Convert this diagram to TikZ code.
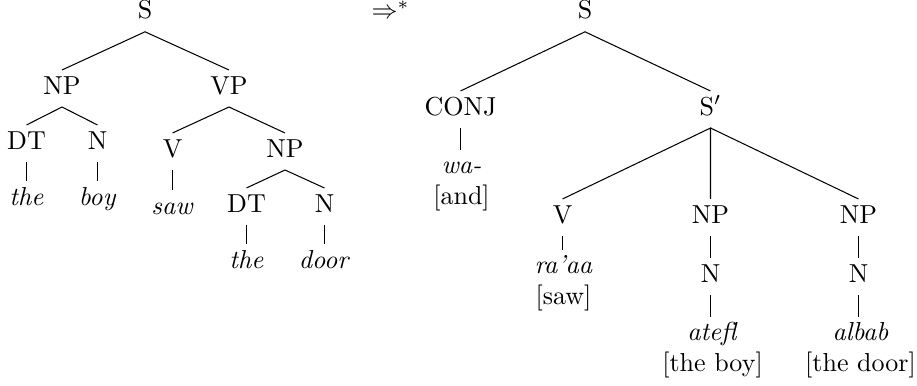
\documentclass[tikz,border=0pt]{standalone}
\begin{document}
\begin{tikzpicture}[x=0.3846pt,y=-0.3846pt,
  cat/.style={inner sep=0pt,text height=9.04pt,text depth=4.8pt,anchor=base},
  lex/.style={inner sep=0pt,align=center,anchor=north},
  br/.style={line width=0.4pt}]
\useasboundingbox (0,0) rectangle (917,385);
% left tree
\node[cat] (S1) at (145,18.8) {S};
\node[cat] (NP1) at (62,94) {NP};
\node[cat] (VP) at (229,94) {VP};
\node[cat] (DT1) at (26.5,149) {DT};
\node[cat] (N1) at (97.5,149) {N};
\node[cat] (V1) at (172.5,157) {V};
\node[cat] (NP2) at (285,157) {NP};
\node[cat] (the1) at (26.5,205.5) {\textit{the}};
\node[cat] (boy) at (97.5,205.5) {\textit{boy}};
\node[cat] (saw) at (172.5,214.5) {\textit{saw}};
\node[cat] (DT2) at (246.5,212) {DT};
\node[cat] (N2) at (324.5,212) {N};
\node[cat] (the2) at (246.5,268.3) {\textit{the}};
\node[cat] (door) at (324.5,268.3) {\textit{door}};
\draw[br] (NP1.north) -- (S1.south) -- (VP.north);
\draw[br] (DT1.north) -- (NP1.south) -- (N1.north);
\draw[br] (V1.north) -- (VP.south) -- (NP2.north);
\draw[br] (DT2.north) -- (NP2.south) -- (N2.north);
\draw[br] (DT1.south) -- (the1.north);
\draw[br] (N1.south) -- (boy.north);
\draw[br] (V1.south) -- (saw.north);
\draw[br] (DT2.south) -- (the2.north);
\draw[br] (N2.south) -- (door.north);
% arrow
\node[inner sep=0pt,anchor=base west] (arr) at (371,18.5) {$\Rightarrow^*$};
% right tree
\node[cat] (S2) at (585,18.8) {S};
\node[cat] (CONJ) at (460.5,115) {CONJ};
\node[cat] (S3) at (710.5,115) {S$'$};
\node[lex] (wa) at (461.5,149.5) {\rule{0pt}{9.04pt}\textit{wa-}\\{}[and]};
\node[cat] (V2) at (562.5,223) {V};
\node[cat] (NP3) at (710.5,223) {NP};
\node[cat] (NP4) at (858.5,223) {NP};
\node[lex] (raaa) at (563.5,249.5) {\rule{0pt}{9.04pt}\textit{ra'aa}\\{}[saw]};
\node[cat] (N3) at (710.5,282) {N};
\node[cat] (N4) at (858.5,282) {N};
\node[lex] (atefl) at (712.5,316.5) {\rule{0pt}{9.04pt}\textit{atefl}\\{}[the boy]};
\node[lex] (albab) at (860.5,316.5) {\rule{0pt}{9.04pt}\textit{albab}\\{}[the door]};
\draw[br] (CONJ.north) -- (S2.south) -- (S3.north);
\draw[br] (V2.north) -- (S3.south) -- (NP3.north);
\draw[br] (S3.south) -- (NP4.north);
\draw[br] (CONJ.south) -- (CONJ.south |- wa.north);
\draw[br] (V2.south) -- (V2.south |- raaa.north);
\draw[br] (NP3.south) -- (N3.north);
\draw[br] (NP4.south) -- (N4.north);
\draw[br] (N3.south) -- (N3.south |- atefl.north);
\draw[br] (N4.south) -- (N4.south |- albab.north);
\end{tikzpicture}
\end{document}
